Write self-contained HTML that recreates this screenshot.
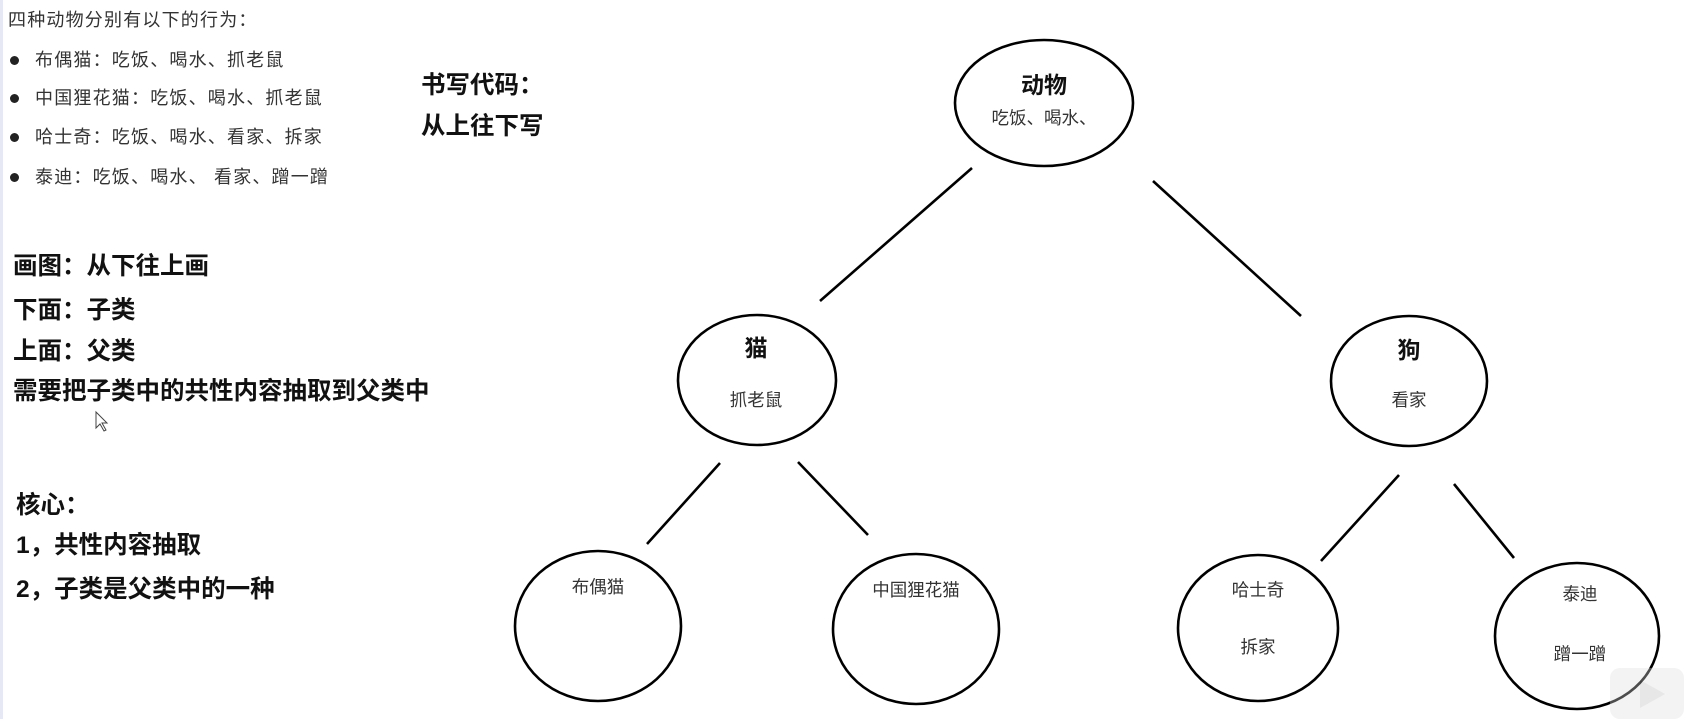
<!DOCTYPE html>
<html><head><meta charset="utf-8"><style>
html,body{margin:0;padding:0;background:#fff;}
body{width:1684px;height:719px;position:relative;overflow:hidden;font-family:"Liberation Sans","Noto Sans CJK SC",sans-serif;color:#222;}
.t{position:absolute;white-space:nowrap;line-height:1;}
.l{font-size:18px;letter-spacing:1.2px;color:#333;}
.b{font-size:24.5px;font-weight:bold;color:#111;}
.dot{position:absolute;width:9px;height:9px;border-radius:50%;background:#222;left:10px;}
</style></head><body>
<div style="position:absolute;left:0;top:0;width:3px;height:719px;background:#e6e8f4"></div>
<div class="t l" style="left:8px;top:11px;">四种动物分别有以下的行为：</div>
<div class="dot" style="top:56px"></div><div class="t l" style="left:35px;top:51px;">布偶猫：吃饭、喝水、抓老鼠</div>
<div class="dot" style="top:94px"></div><div class="t l" style="left:35px;top:89px;">中国狸花猫：吃饭、喝水、抓老鼠</div>
<div class="dot" style="top:133px"></div><div class="t l" style="left:35px;top:128px;">哈士奇：吃饭、喝水、看家、拆家</div>
<div class="dot" style="top:173px"></div><div class="t l" style="left:35px;top:168px;">泰迪：吃饭、喝水、 看家、蹭一蹭</div>

<div class="t b" style="left:421px;top:74px;">书写代码：</div>
<div class="t b" style="left:421px;top:115px;">从上往下写</div>

<div class="t b" style="left:13px;top:255px;">画图：从下往上画</div>
<div class="t b" style="left:13px;top:299px;">下面：子类</div>
<div class="t b" style="left:13px;top:340px;">上面：父类</div>
<div class="t b" style="left:13px;top:380px;">需要把子类中的共性内容抽取到父类中</div>
<div class="t b" style="left:16px;top:494px;">核心：</div>
<div class="t b" style="left:16px;top:534px;">1，共性内容抽取</div>
<div class="t b" style="left:16px;top:578px;">2，子类是父类中的一种</div>

<svg width="1684" height="719" style="position:absolute;left:0;top:0" font-family="Liberation Sans, Noto Sans CJK SC, sans-serif">
<path d="M96 412 L96 428 L100 424 L104 431 L106 430 L102 423 L107 423 Z" fill="#fff" stroke="#444" stroke-width="1"/>
<g fill="none" stroke="#000" stroke-width="2.6">
<ellipse cx="1044" cy="103" rx="89" ry="63"/>
<ellipse cx="757" cy="380" rx="79" ry="65"/>
<ellipse cx="1409" cy="381" rx="78" ry="65"/>
<ellipse cx="598" cy="626" rx="83" ry="75"/>
<ellipse cx="916" cy="629" rx="83" ry="75"/>
<ellipse cx="1258" cy="628" rx="80" ry="73"/>
<ellipse cx="1577" cy="636" rx="82" ry="73"/>
<line x1="972" y1="168" x2="820" y2="301"/>
<line x1="1153" y1="181" x2="1301" y2="316"/>
<line x1="720" y1="463" x2="647" y2="544"/>
<line x1="798" y1="462" x2="868" y2="535"/>
<line x1="1399" y1="475" x2="1321" y2="561"/>
<line x1="1454" y1="484" x2="1514" y2="558"/>
</g>
<g text-anchor="middle" fill="#333" font-size="17.5">
<text x="1044" y="93" font-size="23" font-weight="bold" fill="#111">动物</text>
<text x="1044" y="124">吃饭、喝水、</text>
<text x="756" y="356" font-size="23" font-weight="bold" fill="#111">猫</text>
<text x="756" y="406">抓老鼠</text>
<text x="1409" y="358" font-size="23" font-weight="bold" fill="#111">狗</text>
<text x="1409" y="406">看家</text>
<text x="598" y="593">布偶猫</text>
<text x="916" y="596">中国狸花猫</text>
<text x="1258" y="596">哈士奇</text>
<text x="1258" y="653">拆家</text>
<text x="1580" y="600">泰迪</text>
<text x="1580" y="660">蹭一蹭</text>
</g>
<g opacity="0.35">
<rect x="1610" y="668" width="74" height="51" rx="10" fill="#ddd"/>
<path d="M1640 680 L1665 694 L1640 708 Z" fill="#bbb"/>
</g>
</svg>
</body></html>
